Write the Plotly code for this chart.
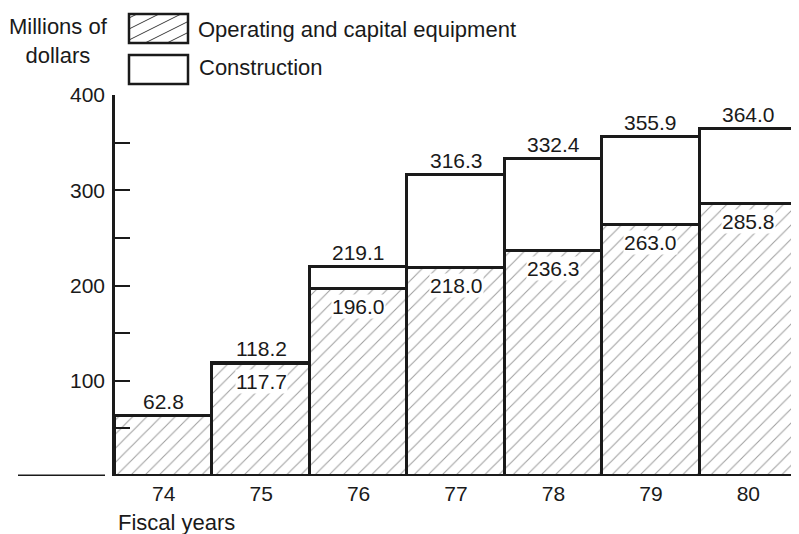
import plotly.graph_objects as go

# ---- data ----
years = [74, 75, 76, 77, 78, 79, 80]
year_labels = ["74", "75", "76", "77", "78", "79", "80"]
operating = [62.8, 117.7, 196.0, 218.0, 236.3, 263.0, 285.8]
total = [62.8, 118.2, 219.1, 316.3, 332.4, 355.9, 364.0]
operating_labels = [None, "117.7", "196.0", "218.0", "236.3", "263.0", "285.8"]
total_labels = ["62.8", "118.2", "219.1", "316.3", "332.4", "355.9", "364.0"]
construction = [round(t - o, 1) for t, o in zip(total, operating)]
y_ticks = [100, 200, 300, 400]
y_tick_labels = ["100", "200", "300", "400"]

FONT = "Liberation Sans, Arial, Helvetica, sans-serif"
INK = "#1a1a1a"
HATCH = "#3c3c3c"
EDGE = 3
# page body offset of the browser (default 8px margin)
OX, OY = 8, 8
W, H = 799 - OX, 534 - OY
# plot area in screen pixels
PX0, PX1, PY0, PY1 = 115, 799, 95, 476
ML, MT = PX0 - OX, PY0 - OY
MR = 0
MB = H - (PY1 - OY)
PW, PH = PX1 - PX0, PY1 - PY0


def px_x(px):
    return (px - PX0) / PW


def px_y(py):
    return (PY1 - py) / PH


fig = go.Figure()
fig.add_trace(go.Bar(
    x=years, y=operating, width=1, name="Operating and capital equipment",
    marker=dict(color="white", line=dict(color=INK, width=EDGE),
                pattern=dict(shape="/", size=10, solidity=0.1,
                             fgcolor=HATCH, bgcolor="white")),
    hoverinfo="skip",
))
fig.add_trace(go.Bar(
    x=years, y=construction, width=1, name="Construction",
    marker=dict(color="white", line=dict(color=INK, width=EDGE)),
    hoverinfo="skip",
))

NUM = dict(family=FONT, size=21, color=INK)
WORD = dict(family=FONT, size=22, color=INK)

annotations = []
for x, t, lab in zip(years, total, total_labels):
    annotations.append(dict(x=x, y=t, xref="x", yref="y", text=lab,
                            showarrow=False, yanchor="bottom", yshift=1,
                            font=NUM))
for x, o, lab in zip(years, operating, operating_labels):
    if lab is None:
        continue
    annotations.append(dict(x=x, y=o, xref="x", yref="y", text=lab,
                            showarrow=False, yanchor="top", yshift=-5,
                            bgcolor="white", borderpad=0, font=NUM))

annotations += [
    dict(x=px_x(58), y=px_y(41), xref="paper", yref="paper",
         text="Millions of<br>dollars", showarrow=False, align="center",
         xanchor="center", yanchor="middle", font=WORD),
    dict(x=px_x(196), y=px_y(29), xref="paper", yref="paper",
         text="Operating and capital equipment", showarrow=False,
         xanchor="left", yanchor="middle", font=WORD),
    dict(x=px_x(197), y=px_y(68), xref="paper", yref="paper",
         text="Construction", showarrow=False,
         xanchor="left", yanchor="middle", font=WORD),
    dict(x=px_x(116), y=px_y(522), xref="paper", yref="paper",
         text="Fiscal years", showarrow=False,
         xanchor="left", yanchor="middle", font=WORD),
]

shapes = []
# legend swatches
bx0, bx1 = 129, 188
for (by0, by1), hatched in (((14, 43), True), ((55, 84), False)):
    if hatched:
        # diagonal hatch lines clipped to the swatch box (decoration only)
        slope = 0.5
        for c in range(-30, 80, 11):
            pts = []
            for xx in (bx0, bx1):
                yy = by1 - slope * (xx - bx0) - c
                if by0 <= yy <= by1:
                    pts.append((xx, yy))
            for yy in (by0, by1):
                xx = bx0 + (by1 - c - yy) / slope
                if bx0 <= xx <= bx1:
                    pts.append((xx, yy))
            pts = sorted(set(pts))
            if len(pts) >= 2:
                (xa, ya), (xb, yb) = pts[0], pts[-1]
                shapes.append(dict(type="line", xref="paper", yref="paper",
                                   x0=px_x(xa), y0=px_y(ya), x1=px_x(xb), y1=px_y(yb),
                                   line=dict(color=HATCH, width=1)))
    shapes.append(dict(type="rect", xref="paper", yref="paper",
                       x0=px_x(bx0), x1=px_x(bx1), y0=px_y(by1), y1=px_y(by0),
                       line=dict(color=INK, width=2.5)))
# left baseline stub
shapes.append(dict(type="line", xref="paper", yref="y",
                   x0=px_x(18), x1=px_x(105), y0=0, y1=0,
                   line=dict(color=INK, width=EDGE)))

fig.update_layout(
    width=W, height=H,
    margin=dict(l=ML, r=MR, t=MT, b=MB, pad=0),
    paper_bgcolor="white", plot_bgcolor="white",
    barmode="stack", bargap=0, showlegend=False,
    font=dict(family=FONT, size=20, color=INK),
    annotations=annotations, shapes=shapes,
    xaxis=dict(range=[73.5, 80.52], tickvals=years, ticktext=year_labels,
               showgrid=False, zeroline=False, showline=False, ticks="",
               ticklabelstandoff=3, tickfont=NUM, fixedrange=True),
    yaxis=dict(range=[0, 400], tickvals=y_ticks, ticktext=y_tick_labels,
               showgrid=False, zeroline=False, showline=True,
               linecolor=INK, linewidth=2.5,
               ticks="inside", ticklen=15, tickwidth=2, tickcolor=INK,
               ticklabelstandoff=3,
               minor=dict(dtick=50, tick0=50, ticks="inside", ticklen=15,
                          tickwidth=2, tickcolor=INK, showgrid=False),
               tickfont=NUM, fixedrange=True),
)

fig.write_html("out.html")
